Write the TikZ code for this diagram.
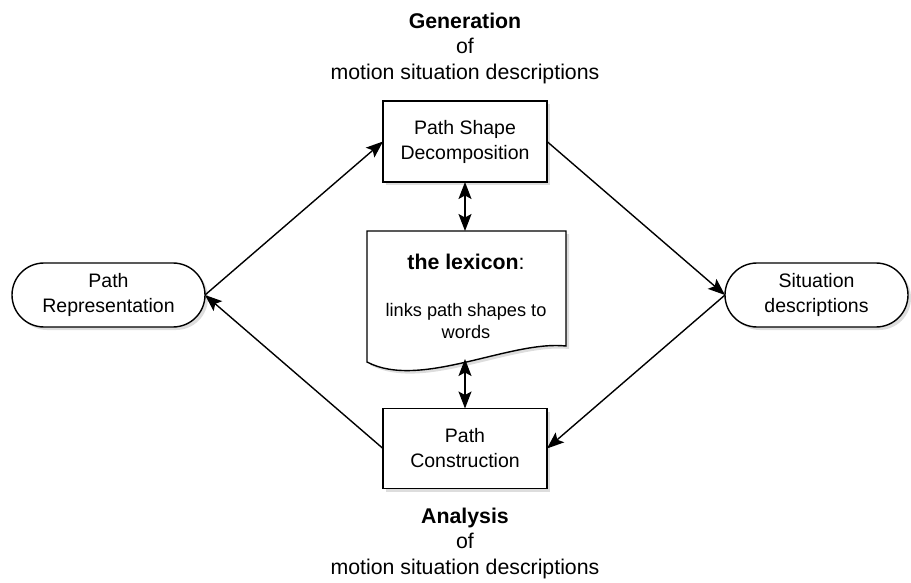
\documentclass[tikz,border=0pt]{standalone}
\usepackage{fontspec}
\setmainfont{Liberation Sans}
\usetikzlibrary{arrows.meta,shadows}
\begin{document}
\begin{tikzpicture}[x=1pt,y=-1pt,
  every node/.style={inner sep=0pt, outer sep=0pt},
  shadowed/.style={drop shadow={shadow xshift=3pt, shadow yshift=-3pt, opacity=0.22, fill=black!60}},
  procbox/.style={draw=black, line width=1.4pt, fill=white, shadowed,
    minimum width=164pt, minimum height=81pt, align=center,
    font=\fontsize{19.5pt}{25pt}\selectfont},
  termbox/.style={draw=black, line width=1.4pt, fill=white, shadowed,
    rounded corners=32pt, minimum height=64pt, align=center,
    font=\fontsize{19.5pt}{25pt}\selectfont},
  outerlabel/.style={align=center, font=\fontsize{21.3pt}{25.5pt}\selectfont},
  tipstyle/.style={},
  conn/.style={line width=1.4pt, -{Stealth[length=17pt,width=13pt,inset=3.5pt]}},
  dconn/.style={line width=1.4pt, {Stealth[length=17pt,width=13pt,inset=3.5pt]}-{Stealth[length=17pt,width=13pt,inset=3.5pt]}}
]
\useasboundingbox (0,0) rectangle (911,583);

% Nodes
\node[procbox] (dec) at (465,141.5) {Path Shape\\Decomposition};
\node[procbox, minimum height=80pt] (con) at (465,448.5) {Path\\Construction};
\node[termbox, minimum width=193pt] (rep) at (108.5,295) {Path\\Representation};
\node[termbox, minimum width=183pt] (sit) at (816.5,295) {Situation\\descriptions};

% Document (lexicon)
\fill[black!60, opacity=0.22] (370,234) -- (569,234) -- (569,349)
   .. controls (513,343) and (423,393) .. (370,365) -- cycle;
\draw[line width=1.4pt, fill=white] (367,231) -- (566,231) -- (566,346)
   .. controls (510,340) and (420,390) .. (367,362) -- cycle;
\coordinate (lextop) at (465,231);
\coordinate (lexbot) at (465,359);
\node[font=\fontsize{21.3pt}{25pt}\selectfont] (lextitle) at (466,262) {\bfseries the lexicon\mdseries:};
\node[align=center, font=\fontsize{18.2pt}{22pt}\selectfont] (lexbody) at (466,321) {links path shapes to\\words};

% Outer labels
\node[outerlabel] (gen) at (465,48) {\bfseries Generation\\of\\motion situation descriptions};
\node[outerlabel] (ana) at (465,543) {\bfseries Analysis\\of\\motion situation descriptions};

% Connectors
\draw[conn] (rep.east) -- (dec.west);
\draw[conn] (dec.east) -- (sit.west);
\draw[conn] (sit.west) -- (con.east);
\draw[conn] (con.west) -- (rep.east);
\draw[dconn] (dec.south) -- (lextop);
\draw[dconn] (lexbot) -- (con.north);
\end{tikzpicture}
\end{document}
